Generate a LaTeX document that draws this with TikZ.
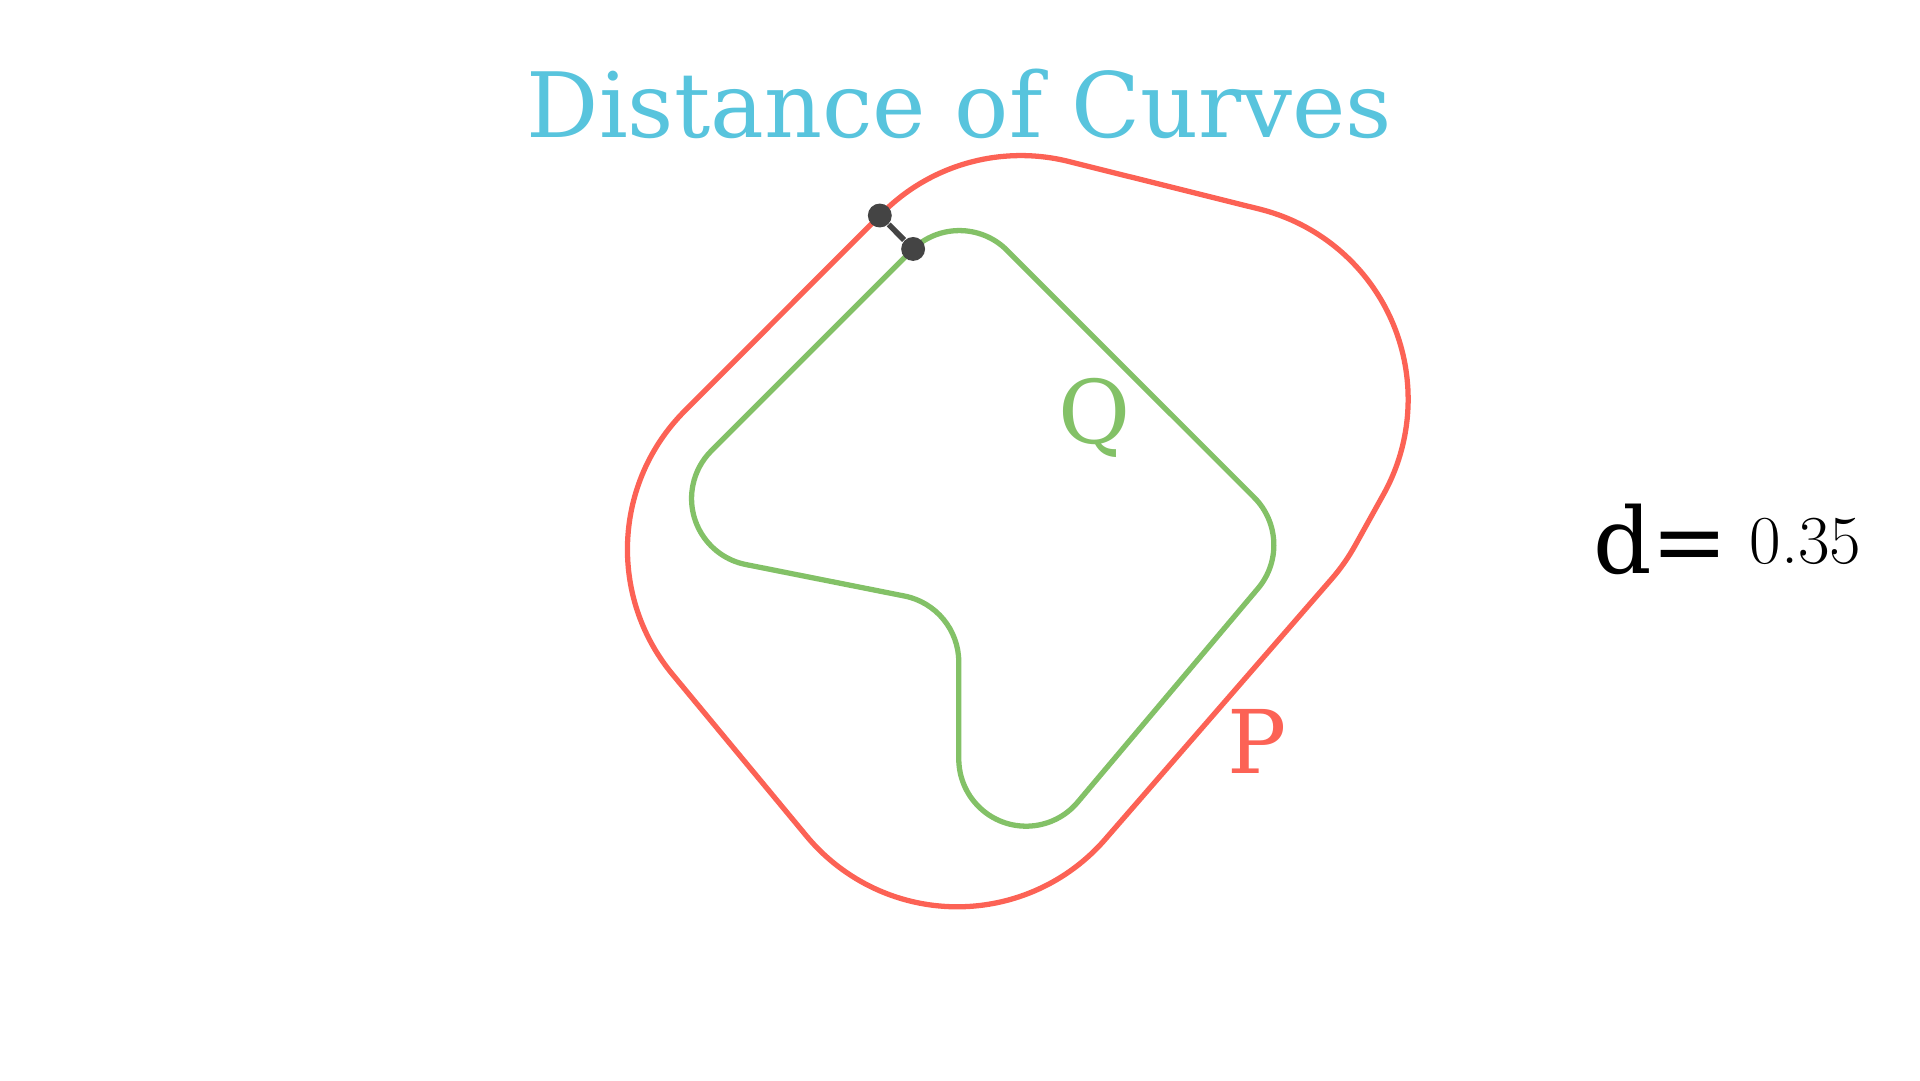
\documentclass[tikz,border=0pt]{standalone}
\usepackage{fontspec}
\newfontfamily\dejavu{DejaVu Serif}
\definecolor{pred}{HTML}{FC6255}
\definecolor{qgreen}{HTML}{83C167}
\definecolor{tblue}{HTML}{58C4DD}
\definecolor{dotgray}{HTML}{444444}
\tikzset{
  curveP/.style={draw=pred, line width=1.5pt, line join=round},
  curveQ/.style={draw=qgreen, line width=1.5pt, line join=round},
  dotnode/.style={circle, fill=dotgray, inner sep=0pt, minimum size=6.8pt},
  link/.style={draw=dotgray, line width=1.6pt},
  txt/.style={inner sep=0pt, outer sep=0pt},
}
\begin{document}
\begin{tikzpicture}[x=0.012245cm, y=-0.012245cm]
\useasboundingbox (0,0) rectangle (1568,882);
% curve P
\draw[curveP] (720.6,173.9) arc[start angle=225, end angle=284.04, radius=160]
  -- (1028.8,170.8) arc[start angle=-75.96, end angle=29, radius=160]
  -- (1106.75,445.3) arc[start angle=29, end angle=41.0, radius=160]
  -- (902.5,685.5) arc[start angle=41.0, end angle=140.36, radius=160]
  -- (549.2,550.7) arc[start angle=140.36, end angle=225, radius=160]
  -- cycle;
% curve Q
\draw[curveQ] (744.6,204.4) arc[start angle=225, end angle=315, radius=55]
  -- (1024.2,406.2) arc[start angle=-45, end angle=40.3, radius=55]
  -- (880,655.2) arc[start angle=40.2, end angle=180, radius=55]
  -- (783,540.7) arc[start angle=0, end angle=-78.8, radius=55]
  -- (609,461) arc[start angle=101.3, end angle=225, radius=55]
  -- cycle;
% closest points
\node[dotnode] (pp) at (718.5,176) {};
\node[dotnode] (qq) at (745.7,203.3) {};
\draw[link] (pp) -- (qq);
% texts
\node[txt, anchor=base, text=tblue, font=\dejavu\fontsize{25.65}{30}\selectfont] (title) at (783.5,112) {Distance of Curves};
\node[txt, anchor=base, text=qgreen, font=\dejavu\fontsize{25}{30}\selectfont] (qlab) at (894,362) {Q};
\node[txt, anchor=base, text=pred, font=\dejavu\fontsize{25}{30}\selectfont] (plab) at (1026.5,632) {P};
\node[txt, anchor=base west, font=\dejavu\fontsize{26}{30}\selectfont] (dlab) at (1301,468) {d=};
\node[txt, anchor=base west, font=\fontsize{19.5}{22}\selectfont] (dval) at (1429,460) {0.35};
\end{tikzpicture}
\end{document}
